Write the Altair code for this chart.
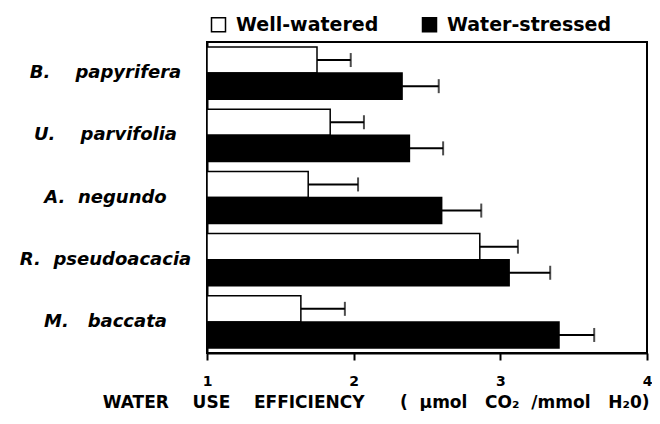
import altair as alt
import pandas as pd

NB = "\u00a0"
species = [f"B.{NB * 3} papyrifera", f"U.{NB * 3} parvifolia", f"A.{NB} negundo",
           f"R.{NB} pseudoacacia", f"M.{NB * 2} baccata"]
groups = ["Well-watered", "Water-stressed"]
ww_mean = [1.75, 1.84, 1.69, 2.86, 1.64]
ww_err = [0.23, 0.23, 0.34, 0.26, 0.30]
ws_mean = [2.33, 2.38, 2.60, 3.06, 3.40]
ws_err = [0.25, 0.23, 0.27, 0.28, 0.24]
x_ticks = [1, 1.5, 2, 2.5, 3, 3.5, 4]
x_domain = [1, 4]
x_title = (f"WATER{NB * 4}USE{NB * 4}EFFICIENCY{NB * 6}({NB * 2}µmol{NB * 3}CO₂{NB * 2}/mmol{NB * 3}H₂0)")

rows = []
for i, s in enumerate(species):
    for g, m, e in ((groups[0], ww_mean[i], ww_err[i]), (groups[1], ws_mean[i], ws_err[i])):
        rows.append({"species": s, "group": g, "mean": m, "hi": m + e, "base": x_domain[0]})
df = pd.DataFrame(rows)

FONT = "DejaVu Sans"
W, H = 440, 311

xscale = alt.Scale(domain=x_domain, nice=False, zero=False)
yscale = alt.Scale(domain=species, paddingInner=0.16, paddingOuter=0.08)
yoff = alt.YOffset("group:N", sort=groups, scale=alt.Scale(domain=groups, paddingInner=0, paddingOuter=0))

x_axis = alt.Axis(
    values=x_ticks, grid=False, title=x_title, format="d",
    labelExpr="datum.value % 1 === 0 ? datum.label : ''",
    labelFont=FONT, labelFontWeight="bold", labelFontSize=14, labelColor="black",
    labelPadding=14, labelFlush=False,
    tickSize={"condition": {"test": "datum.value % 1 === 0", "value": 7}, "value": 4},
    tickWidth=2, tickColor="black", domainColor="black", domainWidth=2,
    titleFont=FONT, titleFontWeight="bold", titleFontSize=17, titleColor="black",
    titleAnchor="end", titleAlign="right", titleX=W + 2, titleY=54, titleBaseline="alphabetic",
)
y_axis = alt.Axis(
    title=None, ticks=False, tickSize=0, grid=False,
    labelFont=FONT, labelFontStyle="italic", labelFontWeight="bold", labelFontSize=18,
    labelColor="black", labelAlign="center", labelPadding=102, labelLimit=300,
    domainColor="black", domainWidth=2,
)

base = alt.Chart(df)

bars = base.mark_bar(stroke="black", strokeWidth=1.5).encode(
    x=alt.X("mean:Q", scale=xscale, axis=x_axis),
    x2="base:Q",
    y=alt.Y("species:N", sort=species, scale=yscale, axis=y_axis),
    yOffset=yoff,
    color=alt.Color(
        "group:N", sort=groups,
        scale=alt.Scale(domain=groups, range=["white", "black"]),
        legend=alt.Legend(
            title=None, orient="none", direction="horizontal", legendX=2, legendY=-27,
            symbolType="square", symbolSize=196, symbolStrokeColor="black",
            symbolStrokeWidth=1.5, symbolOpacity=1,
            labelFont=FONT, labelFontWeight="bold", labelFontSize=19, labelColor="black",
            labelOffset=8, columnPadding=40, labelLimit=300,
        ),
    ),
)

err = base.mark_rule(color="black", strokeWidth=2).encode(
    x=alt.X("mean:Q", scale=xscale),
    x2="hi:Q",
    y=alt.Y("species:N", sort=species, scale=yscale),
    yOffset=yoff,
)

caps = base.mark_tick(color="black", thickness=2, size=14, orient="vertical").encode(
    x=alt.X("hi:Q", scale=xscale),
    y=alt.Y("species:N", sort=species, scale=yscale),
    yOffset=yoff,
)

chart = alt.layer(bars, err, caps).properties(
    width=W, height=H,
    background="white",
    autosize=alt.AutoSizeParams(type="none"),
    padding={"left": 199, "top": 34, "right": 5, "bottom": 58},
).configure_view(stroke="black", strokeWidth=2)

chart.save("out.html", embed_options={"renderer": "svg", "actions": False})
